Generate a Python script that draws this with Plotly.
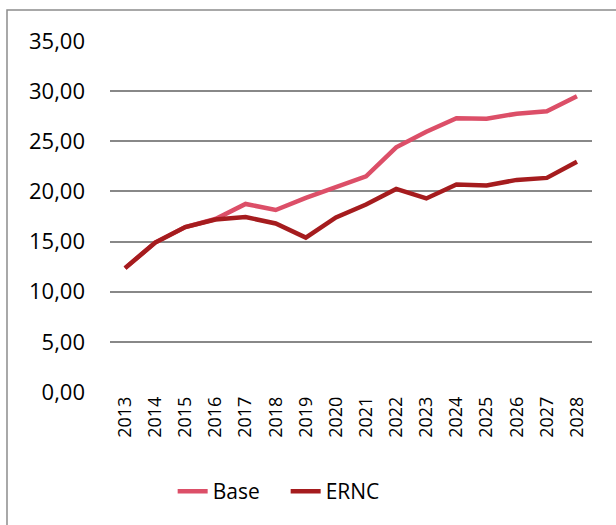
import plotly.graph_objects as go

years = [str(y) for y in range(2013, 2029)]
base = [12.35, 14.9, 16.45, 17.25, 18.75, 18.15, 19.35, 20.45, 21.5, 24.4, 25.95, 27.3, 27.25, 27.75, 28.0, 29.5]
ernc = [12.35, 14.9, 16.45, 17.2, 17.45, 16.8, 15.4, 17.4, 18.7, 20.25, 19.3, 20.7, 20.6, 21.15, 21.35, 22.95]
y_ticks = [0, 5, 10, 15, 20, 25, 30, 35]

fig = go.Figure()
fig.add_trace(go.Scatter(x=years, y=base, mode="lines", name="Base",
                         line=dict(color="#DC4F68", width=4.5)))
fig.add_trace(go.Scatter(x=years, y=ernc, mode="lines", name="ERNC",
                         line=dict(color="#A51C1E", width=4.5)))

font = "Open Sans"
fig.update_layout(
    width=616, height=525,
    margin=dict(l=110, r=24, t=41, b=133),
    paper_bgcolor="white", plot_bgcolor="white",
    separators=",.",
    font=dict(family=font, color="#000000", size=22),
    showlegend=True,
    legend=dict(orientation="h", x=0.13, xanchor="left", y=-0.225, yanchor="top",
                font=dict(size=21, family=font), tracegroupgap=0, entrywidth=68),
    xaxis=dict(type="category", range=[-0.5, 15.5], tickangle=-90, showgrid=False,
               ticks="", tickfont=dict(size=18, family=font), zeroline=False, showline=False),
    yaxis=dict(range=[0, 35], tickvals=y_ticks, tickformat=".2f", showgrid=True,
               gridcolor="#888888", gridwidth=1.5, zeroline=False, ticks="",
               ticklabelstandoff=24, tickfont=dict(size=22, family=font)),
    shapes=[dict(type="rect", xref="paper", yref="paper",
                 x0=-0.2137, x1=1.08, y0=-0.42, y1=1.088,
                 line=dict(color="#8C8C8C", width=1.5), layer="below")],
)

fig.write_html("out.html", config={"displayModeBar": False},
               post_script="document.body.style.margin='0px';")
